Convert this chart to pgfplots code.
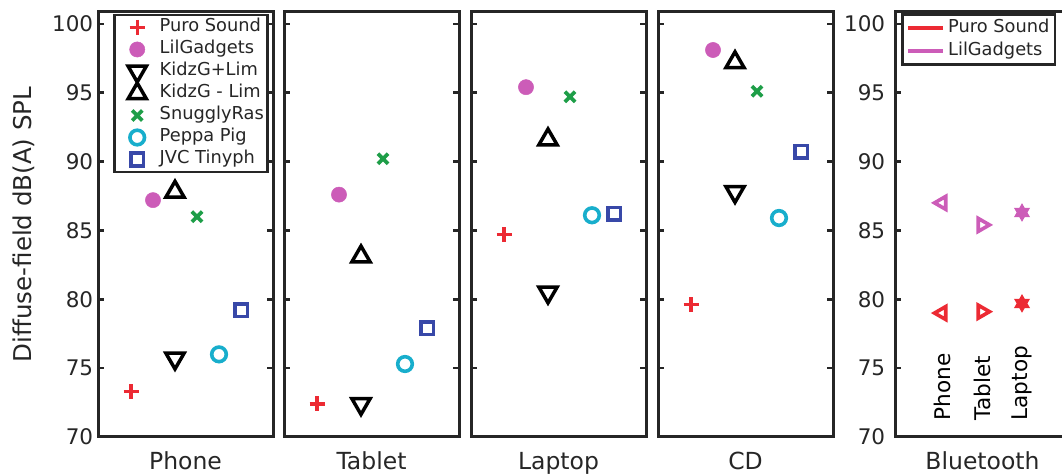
\documentclass[border=0pt]{standalone}
\usepackage{fontspec}
\setmainfont{DejaVu Sans}
\usepackage{pgfplots}
\pgfplotsset{compat=1.18}
\definecolor{axc}{HTML}{262626}
\definecolor{cRed}{HTML}{EC2A33}
\definecolor{cMag}{HTML}{CC5CB8}
\definecolor{cGreen}{HTML}{1E9E48}
\definecolor{cCyan}{HTML}{18AECC}
\definecolor{cBlue}{HTML}{3848A8}
\pgfdeclareplotmark{hexagram}{%
  \pgfpathmoveto{\pgfqpointpolar{90}{\pgfplotmarksize}}%
  \pgfpathlineto{\pgfqpointpolar{210}{\pgfplotmarksize}}%
  \pgfpathlineto{\pgfqpointpolar{330}{\pgfplotmarksize}}%
  \pgfpathclose
  \pgfpathmoveto{\pgfqpointpolar{270}{\pgfplotmarksize}}%
  \pgfpathlineto{\pgfqpointpolar{30}{\pgfplotmarksize}}%
  \pgfpathlineto{\pgfqpointpolar{150}{\pgfplotmarksize}}%
  \pgfpathclose
  \pgfusepathqfillstroke}
\pgfplotsset{
  panel/.style={
    scale only axis, width=175pt, height=425pt,
    anchor=south west,
    xmin=0, xmax=175, ymin=70, ymax=100.86,
    ytick={70,75,...,100}, xtick=\empty,
    ytick pos=both, yticklabel pos=left,
    tick align=inside, major tick length=6pt,
    line width=3pt,
    axis line style={line width=3pt, color=axc},
    every outer x axis line/.append style={line width=3pt},
    every outer y axis line/.append style={line width=3pt},
    major tick style={line width=2.5pt, color=axc},
    /pgf/number format/assume math mode=true,
    tick label style={font=\fontsize{21.5}{26}\selectfont, text=axc},
    xlabel style={at={(axis description cs:0.5,-0.0776)}, anchor=base,
      font=\fontsize{23.5}{28}\selectfont, text=axc},
    clip=false,
  },
  myleg/.style={legend image code/.code={\path[draw=none] (0pt,-2pt) rectangle (42pt,2pt); \draw[##1] plot coordinates {(21pt,0pt)};}},
  puro/.style={only marks, mark=+, mark size=7.5pt, color=cRed, line width=3.4pt, mark options={line width=3.4pt}, myleg},
  lil/.style={only marks, mark=*, mark size=7.6pt, color=cMag, line width=0.5pt, mark options={line width=0.5pt}, myleg},
  kplus/.style={only marks, mark=triangle, mark options={rotate=180, line width=3.5pt}, mark size=10.5pt, color=black, line width=3.5pt, myleg},
  kminus/.style={only marks, mark=triangle, mark options={line width=3.5pt}, mark size=10.5pt, color=black, line width=3.5pt, myleg},
  snug/.style={only marks, mark=x, mark size=7.2pt, color=cGreen, line width=3.7pt, mark options={line width=3.7pt}, myleg},
  peppa/.style={only marks, mark=o, mark size=7.3pt, color=cCyan, line width=3.6pt, mark options={line width=3.6pt}, myleg},
  jvc/.style={only marks, mark=square, mark size=6.3pt, color=cBlue, line width=3.6pt, mark options={line width=3.6pt}, myleg},
}
\begin{document}
\begin{tikzpicture}
% Phone
\begin{axis}[panel, at={(98pt,39pt)}, xlabel={Phone},
  ylabel={Diffuse-field dB(A) SPL},
  ylabel style={at={(axis description cs:-0.423,0.5)}, anchor=center,
    font=\fontsize{24.5}{29}\selectfont, text=axc},
  legend style={at={(axis description cs:0.975,0.996)}, anchor=north east,
    draw=axc, line width=2.6pt, font=\fontsize{17.8}{21}\selectfont, text=axc,
    inner xsep=2pt, inner ysep=1.5pt, row sep=0pt, column sep=0pt,
    nodes={inner sep=1.5pt, text height=14pt, text depth=5pt}},
  legend cell align=left,
]
\addplot[puro] coordinates {(33,73.3)}; \addlegendentry{Puro Sound}
\addplot[lil] coordinates {(55,87.2)}; \addlegendentry{LilGadgets}
\addplot[kplus] coordinates {(77,75.7)}; \addlegendentry{KidzG+Lim}
\addplot[kminus] coordinates {(77,87.8)}; \addlegendentry{KidzG - Lim}
\addplot[snug] coordinates {(99,86.0)}; \addlegendentry{SnugglyRas}
\addplot[peppa] coordinates {(121,76.0)}; \addlegendentry{Peppa Pig}
\addplot[jvc] coordinates {(143,79.2)}; \addlegendentry{JVC Tinyph}
\end{axis}
% Tablet
\begin{axis}[panel, at={(284pt,39pt)}, xlabel={Tablet}, yticklabels={}]
\addplot[puro] coordinates {(33,72.4)};
\addplot[lil] coordinates {(55,87.6)};
\addplot[kplus] coordinates {(77,72.4)};
\addplot[kminus] coordinates {(77,83.1)};
\addplot[snug] coordinates {(99,90.2)};
\addplot[peppa] coordinates {(121,75.3)};
\addplot[jvc] coordinates {(143,77.9)};
\end{axis}
% Laptop
\begin{axis}[panel, at={(471pt,39pt)}, xlabel={Laptop}, yticklabels={}]
\addplot[puro] coordinates {(33,84.7)};
\addplot[lil] coordinates {(55,95.4)};
\addplot[kplus] coordinates {(77,80.5)};
\addplot[kminus] coordinates {(77,91.6)};
\addplot[snug] coordinates {(99,94.7)};
\addplot[peppa] coordinates {(121,86.1)};
\addplot[jvc] coordinates {(143,86.2)};
\end{axis}
% CD
\begin{axis}[panel, at={(658pt,39pt)}, xlabel={CD}, yticklabels={}]
\addplot[puro] coordinates {(33,79.6)};
\addplot[lil] coordinates {(55,98.1)};
\addplot[kplus] coordinates {(77,87.8)};
\addplot[kminus] coordinates {(77,97.2)};
\addplot[snug] coordinates {(99,95.1)};
\addplot[peppa] coordinates {(121,85.9)};
\addplot[jvc] coordinates {(143,90.7)};
\end{axis}
% Bluetooth
\begin{axis}[panel, at={(895pt,39pt)}, xlabel={Bluetooth},
  yticklabel style={xshift=-5pt},
  legend style={at={(axis description cs:0.035,0.997)}, anchor=north west,
    draw=axc, line width=2.6pt, font=\fontsize{17.8}{21}\selectfont, text=axc,
    inner xsep=4pt, inner ysep=2.5pt, row sep=1pt, column sep=2pt,
    nodes={inner sep=1.5pt, text height=14pt, text depth=5pt}},
  legend cell align=left,
  legend image code/.code={\draw[#1] (0pt,0pt) -- (35pt,0pt);},
]
\addlegendimage{cRed, line width=3.2pt}
\addlegendentry{Puro Sound}
\addlegendimage{cMag, line width=3.2pt}
\addlegendentry{LilGadgets}
\addplot[only marks, mark size=7.5pt, line width=3.6pt, cRed, mark=triangle, mark options={rotate=90, line width=3.6pt}] coordinates {(47,79.0)};
\addplot[only marks, mark size=7.5pt, line width=3.6pt, cRed, mark=triangle, mark options={rotate=-90, line width=3.6pt}] coordinates {(87,79.1)};
\addplot[only marks, cRed, mark=hexagram, mark size=8.3pt, line width=1pt, mark options={line width=1pt}] coordinates {(127,79.7)};
\addplot[only marks, mark size=7.5pt, line width=3.6pt, cMag, mark=triangle, mark options={rotate=90, line width=3.6pt}] coordinates {(47,87.0)};
\addplot[only marks, mark size=7.5pt, line width=3.6pt, cMag, mark=triangle, mark options={rotate=-90, line width=3.6pt}] coordinates {(87,85.4)};
\addplot[only marks, cMag, mark=hexagram, mark size=8.3pt, line width=1pt, mark options={line width=1pt}] coordinates {(127,86.3)};
\node[rotate=90, anchor=west, inner sep=0pt, font=\fontsize{21.6}{26}\selectfont, text=black] at (axis cs:47,71.1) {Phone};
\node[rotate=90, anchor=west, inner sep=0pt, font=\fontsize{21.6}{26}\selectfont, text=black] at (axis cs:87,71.1) {Tablet};
\node[rotate=90, anchor=west, inner sep=0pt, font=\fontsize{21.6}{26}\selectfont, text=black] at (axis cs:127,71.1) {Laptop};
\end{axis}
\pgfresetboundingbox
\path[use as bounding box] (0pt,0pt) rectangle (1062pt,476pt);
\end{tikzpicture}
\end{document}
